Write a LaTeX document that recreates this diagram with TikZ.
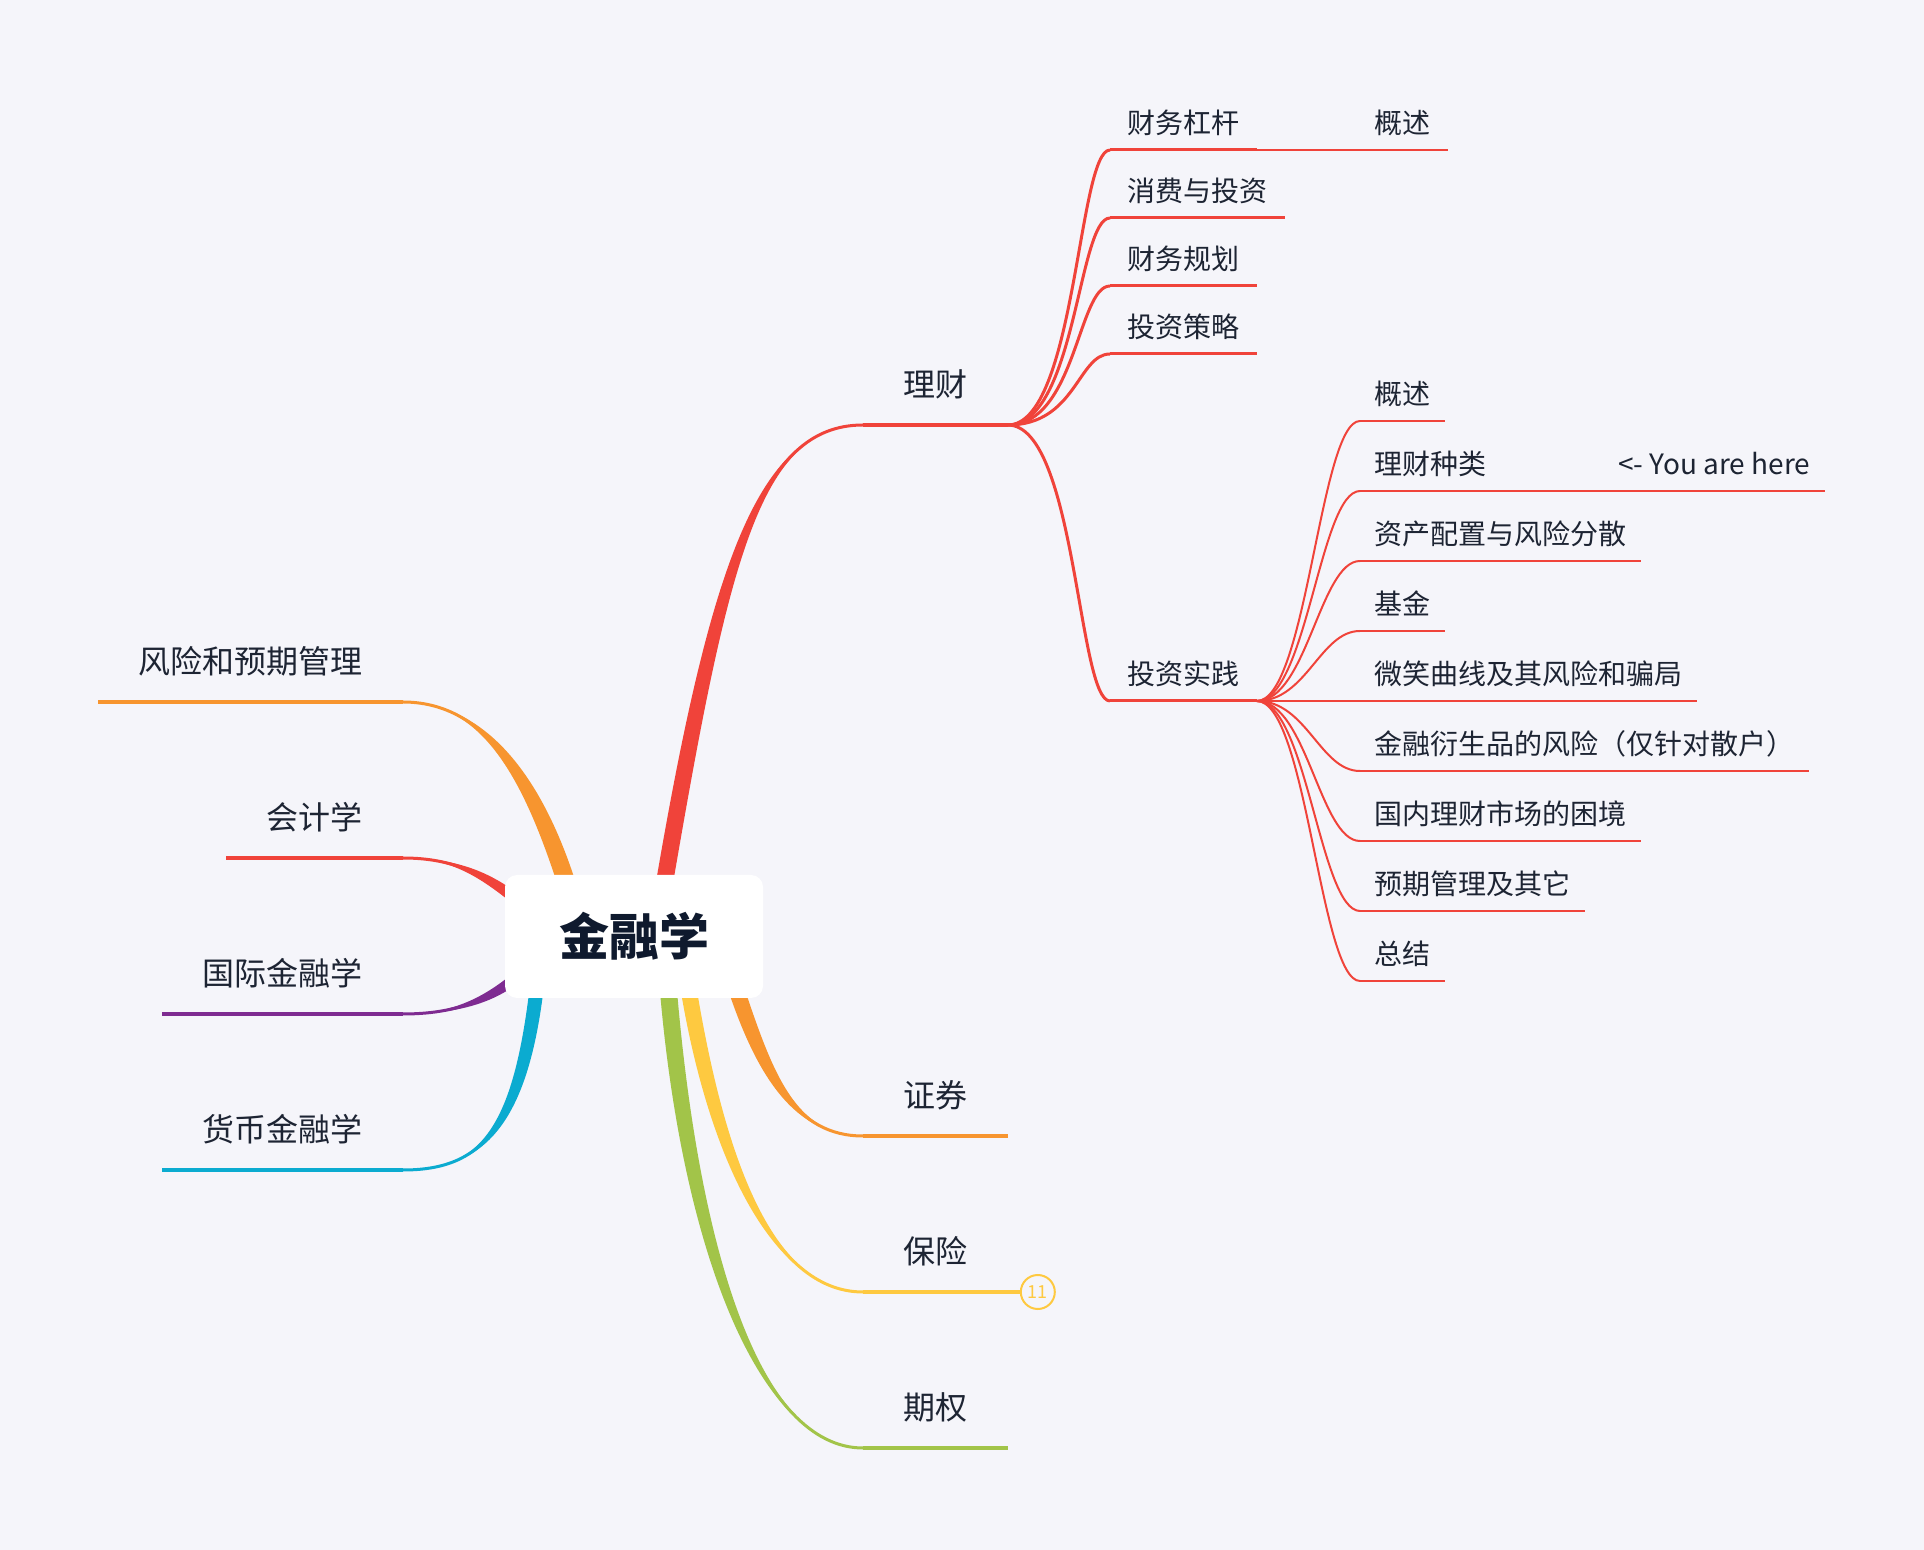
\documentclass[tikz,border=0pt]{standalone}
\usepackage{fontspec}
\setmainfont{Noto Sans CJK SC}
\usepackage{tikz}
\usetikzlibrary{calc,positioning,backgrounds}

\definecolor{bgpaper}{HTML}{F5F5FA}
\definecolor{inktext}{HTML}{1D2433}
\definecolor{inkroot}{HTML}{0F1A2E}
\definecolor{brred}{HTML}{F0433A}
\definecolor{brorange}{HTML}{F7952F}
\definecolor{bryellow}{HTML}{FEC940}
\definecolor{brgreen}{HTML}{A2C449}
\definecolor{brblue}{HTML}{0BABD0}
\definecolor{brpurple}{HTML}{7E2B91}

% tapered branch: colour, start, out vector, in vector, end, half width
\newcommand{\mmbranch}[6]{%
  \path #2 ++#3 coordinate (mm-c);
  \fill[#1] ($#2!#6!90:(mm-c)$) .. controls +#3 and +#4 .. #5
    .. controls +#4 and +#3 .. ($#2!#6!-90:(mm-c)$) -- cycle;
  \draw[#1, line width=1.5pt] #2 .. controls +#3 and +#4 .. #5;
}

\begin{document}
\begin{tikzpicture}[x=0.5pt,y=-0.5pt,
  rootbox/.style={rectangle, rounded corners=6pt, fill=white, minimum width=129pt,
    minimum height=61.5pt, text=inkroot, font=\bfseries\fontsize{25pt}{30pt}\selectfont},
  maintopic/.style={inner xsep=20pt, inner ysep=12pt, text height=14.1pt, text depth=1.9pt,
    text=inktext, font=\fontsize{16pt}{19pt}\selectfont},
  subtopic/.style={anchor=south west, inner xsep=8.5pt, inner ysep=6.5pt, text height=12.3pt,
    text depth=1.7pt, text=inktext, font=\fontsize{14pt}{17pt}\selectfont},
  leaf/.style={subtopic, inner xsep=7pt},
  uline/.style={line width=2pt},
  subline/.style={brred, line width=1.5pt},
  leafline/.style={brred, line width=1pt},
  countbadge/.style={circle, draw=bryellow, line width=1pt, minimum size=17pt, inner sep=0pt,
    text=bryellow, font=\fontsize{9pt}{10pt}\selectfont},
]
  \useasboundingbox (0,0) rectangle (1924,1550);

  \node[rootbox] (root) at (634,936.5) {金融学};

  % main topics
  \node[maintopic, anchor=south west] (lc) at (863,425) {理财};
  \node[maintopic, anchor=south west] (zq) at (863,1136) {证券};
  \node[maintopic, anchor=south west] (bx) at (863,1292) {保险};
  \node[maintopic, anchor=south west] (qq) at (863,1448) {期权};
  \node[maintopic, anchor=south east] (fx) at (403,702) {风险和预期管理};
  \node[maintopic, anchor=south east] (kj) at (403,858) {会计学};
  \node[maintopic, anchor=south east] (gj) at (403,1014) {国际金融学};
  \node[maintopic, anchor=south east] (hb) at (403,1170) {货币金融学};
  \node[countbadge, right=6pt of bx.south east] (bx-n) {11};

  % 理财
  \node[subtopic] (cwgg) at (1110,150) {财务杠杆};
  \node[subtopic] (xfyt) at (1110,218) {消费与投资};
  \node[subtopic] (cwgh) at (1110,286) {财务规划};
  \node[subtopic] (tzcl) at (1110,354) {投资策略};
  \node[subtopic] (tzsj) at (1110,701) {投资实践};
  \node[subtopic] (gs1) at ($(cwgg.south east)+(100,0)$) {概述};

  % 投资实践
  \node[leaf] (gs2) at (1360,421) {概述};
  \node[leaf] (lczl) at (1360,491) {理财种类};
  \node[leaf] (yah) at ($(lczl.south east)+(103,0)$) {<- You are here};
  \node[leaf] (zcpz) at (1360,561) {资产配置与风险分散};
  \node[leaf] (jj) at (1360,631) {基金};
  \node[leaf] (wxqx) at (1360,701) {微笑曲线及其风险和骗局};
  \node[leaf] (jrys) at (1360,771) {金融衍生品的风险（仅针对散户）};
  \node[leaf] (gnlc) at (1360,841) {国内理财市场的困境};
  \node[leaf] (yqgl) at (1360,911) {预期管理及其它};
  \node[leaf] (zj) at (1360,981) {总结};

  \begin{scope}[on background layer]
    \fill[bgpaper] (0,0) rectangle (1924,1550);
    \coordinate (lc-s) at ($(root.north)+(31,5)$);
    \coordinate (zq-s) at ($(root.south)+(101,-13)$);
    \coordinate (bx-s) at ($(root.south)+(54,-13)$);
    \coordinate (qq-s) at ($(root.south)+(34,-13)$);
    \coordinate (fx-s) at ($(root.north)+(-67,10)$);
    \coordinate (kj-s) at ($(root.west)+(15,-34.5)$);
    \coordinate (gj-s) at ($(root.west)+(15,38.5)$);
    \coordinate (hb-s) at ($(root.south)+(-97,-13)$);
    \mmbranch{brred}{(lc-s)}{(55,-320)}{(-103,0)}{(lc.south west)}{4.25pt}
    \mmbranch{brorange}{(zq-s)}{(30,90)}{(-68,0)}{(zq.south west)}{4pt}
    \mmbranch{bryellow}{(bx-s)}{(27,165)}{(-93,0)}{(bx.south west)}{4pt}
    \mmbranch{brgreen}{(qq-s)}{(22,265)}{(-103,0)}{(qq.south west)}{4.25pt}
    \mmbranch{brorange}{(fx-s)}{(-37,-115)}{(77,0)}{(fx.south east)}{4.5pt}
    \mmbranch{brred}{(kj-s)}{(-35,-28)}{(50,0)}{(kj.south east)}{2.75pt}
    \mmbranch{brpurple}{(gj-s)}{(-30,25)}{(52,0)}{(gj.south east)}{2.75pt}
    \mmbranch{brblue}{(hb-s)}{(-17,145)}{(77,0)}{(hb.south east)}{3.5pt}
  \end{scope}

  % underlines
  \draw[uline, brred] (lc.south west) -- (lc.south east);
  \draw[uline, brorange] (zq.south west) -- (zq.south east);
  \draw[uline, bryellow] (bx.south west) -- (bx.south east) -- (bx-n.west);
  \draw[uline, brgreen] (qq.south west) -- (qq.south east);
  \draw[uline, brorange] (fx.south west) -- (fx.south east);
  \draw[uline, brred] (kj.south west) -- (kj.south east);
  \draw[uline, brpurple] (gj.south west) -- (gj.south east);
  \draw[uline, brblue] (hb.south west) -- (hb.south east);
  \foreach \n in {cwgg,xfyt,cwgh,tzcl,tzsj}
    \draw[subline] (\n.south west) -- (\n.south east);
  \foreach \n in {gs1,gs2,lczl,yah,zcpz,jj,wxqx,jrys,gnlc,yqgl,zj}
    \draw[leafline] (\n.south west) -- (\n.south east);

  % connectors
  \foreach \n in {cwgg,xfyt,cwgh,tzcl,tzsj}
    \draw[subline] (lc.south east) .. controls +(68,0) and +(-32,0) .. (\n.south west);
  \foreach \n in {gs2,lczl,zcpz,jj,wxqx,jrys,gnlc,yqgl,zj}
    \draw[leafline] (tzsj.south east) .. controls +(50,0) and +(-40,0) .. (\n.south west);
  \draw[leafline] (cwgg.south east) -- (gs1.south west);
  \draw[leafline] (lczl.south east) -- (yah.south west);
\end{tikzpicture}
\end{document}
